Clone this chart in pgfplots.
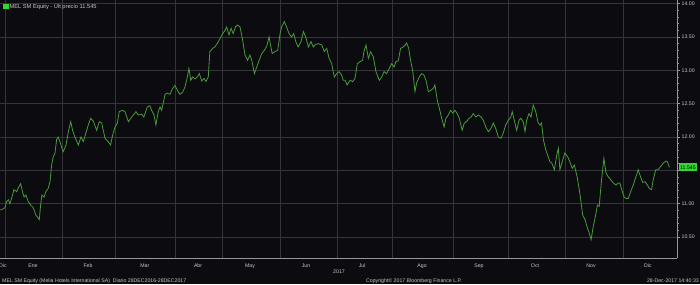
\documentclass[border=0pt]{standalone}
\usepackage{fontspec}
\setmainfont{Liberation Sans}
\usepackage{pgfplots}
\pgfplotsset{compat=1.18}
\definecolor{bg}{RGB}{12,11,16}
\definecolor{gridc}{RGB}{52,52,58}
\definecolor{axc}{RGB}{150,150,155}
\definecolor{txt}{RGB}{200,200,200}
\definecolor{ln}{RGB}{72,155,58}
\definecolor{lastc}{RGB}{50,215,50}
\newcommand\sm{\fontsize{5.2}{6}\selectfont}
\newcommand\legf{\fontsize{5.7}{6.5}\selectfont}
\begin{document}
\begin{tikzpicture}[x=1pt,y=1pt]
\fill[bg] (0,0) rectangle (700,284);
\useasboundingbox (0,0) rectangle (700,284);
\begin{axis}[
  at={(0pt,26pt)}, anchor=south west,
  scale only axis, width=677pt, height=258pt,
  xmin=0.6, xmax=259, ymin=10.186, ymax=14.054,
  axis x line*=bottom, axis y line*=right,
  axis line style={axc, line width=0.6pt},
  /pgf/number format/assume math mode=true,
  tick align=outside,
  xtick={2.5,24.5,44.5,67.5,85.5,107.5,129.5,150.5,173.5,194.5,216.5,238.5},
  xticklabels={},
  xtick style={draw=none},
  extra x ticks={1.7,13.2,34.2,55.9,76.2,96,117.4,138.8,161.7,183.4,204.8,226.2,247.9},
  extra x tick labels={Dic,Ene,Feb,Mar,Abr,May,Jun,Jul,Ago,Sep,Oct,Nov,Dic},
  extra x tick style={grid=none, major tick length=0pt,
     xticklabel style={anchor=north, inner sep=0pt, yshift=-6pt}},
  ytick={10.5,11,11.5,12,12.5,13,13.5,14},
  yticklabels={10.50,11.00,{},12.00,12.50,13.00,13.50,14.00},
  minor y tick num=4,
  ytick style={axc, line width=0.5pt},
  major tick length=3pt, minor tick length=1.5pt,
  yticklabel style={anchor=west, inner sep=0pt, xshift=1.5pt},
  extra y ticks={11.545},
  extra y tick labels={11.545},
  extra y tick style={grid=none, major tick length=0pt,
     yticklabel style={fill=lastc, text=black, inner sep=1pt, xshift=0.5pt, minimum height=8pt}},
  ticklabel style={font=\sm, text=txt},
  grid=major,
  major grid style={gridc, line width=0.7pt},
  legend style={at={(0,1)}, anchor=north west, xshift=3pt, yshift=-2pt,
     draw=none, fill=none, inner sep=0pt, font=\legf, text=txt,
     nodes={inner sep=1pt}},
  legend cell align=left,
]
\addplot[ln, line width=0.8pt,
  legend image code/.code={\fill[lastc] (0pt,-2.3pt) rectangle (4.6pt,2.3pt);}]
coordinates {
(0.6,10.91)(1.2,10.91)(2.5,10.94)(3.1,11.03)(3.8,11.06)(4.4,11.00)(5.4,11.13)(5.9,11.21)(7.0,11.18)(7.6,11.24)(8.5,11.30)(9.3,11.16)(9.8,11.10)(10.5,11.13)(11.4,11.03)(12.3,10.98)(13.3,10.94)(14.3,10.83)(15.6,10.76)(16.1,10.98)(16.6,11.13)(17.4,11.10)(18.1,11.18)(19.0,11.23)(19.7,11.33)(20.3,11.58)(20.9,11.70)(21.6,11.76)(22.2,11.96)(22.8,12.00)(23.5,11.93)(24.1,11.85)(24.7,11.78)(25.8,11.88)(26.7,12.08)(27.6,12.23)(28.3,12.10)(29.2,12.00)(30.5,11.88)(31.5,12.00)(32.4,11.93)(33.4,12.06)(34.3,12.18)(35.2,12.28)(36.2,12.24)(37.5,12.10)(38.5,12.23)(39.4,12.21)(40.7,11.98)(41.9,11.93)(42.8,11.88)(43.6,12.03)(44.5,12.15)(45.4,12.21)(46.1,12.38)(46.7,12.39)(47.4,12.40)(48.3,12.38)(49.6,12.23)(50.9,12.30)(52.5,12.38)(53.4,12.33)(54.7,12.34)(55.5,12.30)(56.8,12.45)(57.8,12.47)(58.5,12.40)(59.4,12.33)(60.1,12.18)(61.0,12.38)(61.7,12.45)(62.3,12.40)(62.9,12.51)(63.6,12.64)(64.4,12.66)(65.5,12.64)(66.5,12.73)(67.4,12.77)(68.3,12.70)(69.3,12.64)(70.3,12.67)(71.2,12.75)(72.1,12.90)(72.7,13.03)(73.4,12.85)(74.1,12.90)(75.0,12.87)(75.9,12.90)(76.7,12.95)(77.6,12.84)(78.5,12.88)(79.2,12.83)(80.1,12.90)(80.7,13.28)(81.8,13.33)(82.6,13.35)(83.5,13.40)(84.6,13.48)(85.6,13.55)(86.5,13.60)(87.1,13.65)(88.0,13.53)(88.8,13.63)(89.6,13.55)(90.5,13.65)(91.3,13.68)(92.2,13.65)(93.1,13.48)(94.1,13.23)(95.1,13.15)(96.0,13.23)(96.7,13.15)(97.7,12.95)(98.6,13.05)(99.5,13.15)(100.5,13.25)(101.5,13.30)(102.4,13.36)(103.3,13.50)(104.0,13.35)(104.5,13.25)(105.5,13.28)(106.6,13.30)(107.5,13.55)(108.1,13.65)(109.1,13.73)(110.0,13.65)(110.9,13.55)(111.9,13.50)(112.7,13.55)(113.5,13.43)(114.4,13.35)(115.5,13.43)(116.4,13.58)(117.3,13.50)(118.3,13.35)(119.3,13.43)(120.2,13.35)(121.1,13.39)(122.1,13.40)(123.4,13.38)(124.4,13.28)(125.3,13.33)(126.2,13.18)(127.2,13.10)(128.2,12.90)(129.1,12.95)(130.0,12.98)(131.0,12.93)(131.6,12.85)(132.3,12.85)(133.1,12.78)(134.2,12.85)(135.2,12.83)(136.1,12.88)(137.0,13.10)(138.0,13.13)(139.0,13.15)(139.5,13.28)(140.3,13.38)(141.2,13.18)(142.1,13.28)(143.1,13.20)(144.1,12.98)(145.4,12.85)(146.3,12.90)(147.2,12.98)(148.2,12.95)(149.2,13.03)(150.1,13.10)(151.0,13.05)(151.7,13.13)(152.6,13.14)(153.5,13.33)(154.5,13.35)(155.3,13.38)(155.8,13.41)(156.6,13.33)(157.3,13.15)(158.1,13.00)(159.0,12.68)(159.6,12.81)(160.6,12.90)(161.5,12.95)(162.4,12.93)(163.2,12.85)(164.1,12.68)(165.0,12.70)(166.0,12.73)(166.6,12.78)(167.5,12.55)(168.3,12.43)(169.2,12.28)(170.1,12.15)(170.8,12.28)(171.7,12.33)(172.6,12.40)(173.4,12.36)(174.3,12.40)(175.1,12.35)(175.9,12.28)(176.2,12.23)(177.0,12.10)(177.8,12.21)(178.7,12.23)(179.6,12.28)(180.4,12.30)(181.2,12.35)(182.2,12.30)(183.2,12.33)(184.2,12.30)(185.1,12.25)(186.0,12.15)(187.0,12.08)(188.0,12.13)(188.9,12.21)(189.8,12.13)(190.8,12.00)(191.8,11.98)(192.7,12.06)(193.6,12.18)(194.6,12.25)(195.6,12.30)(196.1,12.38)(196.9,12.25)(197.8,12.10)(198.7,12.25)(199.4,12.28)(200.3,12.23)(201.0,12.08)(201.6,12.25)(202.5,12.35)(203.3,12.30)(204.1,12.48)(205.1,12.38)(206.0,12.21)(206.7,12.18)(207.3,12.21)(208.0,11.96)(208.9,11.81)(209.6,11.73)(210.5,11.63)(211.2,11.61)(212.2,11.51)(213.1,11.73)(213.7,11.83)(214.3,11.51)(215.2,11.63)(216.2,11.76)(217.3,11.70)(218.1,11.63)(219.0,11.53)(219.8,11.58)(220.9,11.40)(221.9,11.16)(223.0,10.83)(223.9,10.76)(224.7,10.65)(225.5,10.56)(226.2,10.46)(227.0,10.65)(228.1,10.86)(228.6,10.98)(229.3,10.96)(230.2,11.36)(231.1,11.68)(231.9,11.46)(232.8,11.40)(233.7,11.36)(234.7,11.31)(235.7,11.28)(236.6,11.31)(237.2,11.31)(237.9,11.21)(238.8,11.10)(239.5,11.08)(240.4,11.08)(241.3,11.18)(242.3,11.28)(243.3,11.40)(244.2,11.51)(245.1,11.40)(245.9,11.32)(246.8,11.33)(247.7,11.28)(248.4,11.23)(249.3,11.21)(249.9,11.36)(250.9,11.51)(251.8,11.51)(252.8,11.56)(253.8,11.61)(254.8,11.64)(255.3,11.63)(256.1,11.545)
};
\addlegendentry{MEL SM Equity - Últ precio 11.545}
\draw[axc, line width=0.5pt] (axis cs:2.5,10.186) -- ++(0pt,-12pt);
\draw[axc, line width=0.5pt] (axis cs:257.2,10.186) ++(0pt,-10pt) -- ++(0pt,-10pt);
\end{axis}
\node[anchor=center, font=\sm, text=txt] at (339,12) {2017};
\node[anchor=west, font=\sm, text=txt, inner sep=0pt] at (2,3) {MEL SM Equity (Melia Hotels International SA)\ \ Diario 28DEC2016-28DEC2017};
\node[anchor=west, font=\sm, text=txt, inner sep=0pt] at (366,3) {Copyright© 2017 Bloomberg Finance L.P.};
\node[anchor=east, font=\sm, text=txt, inner sep=0pt] at (699,3) {28-Dec-2017 14:40:33};
\end{tikzpicture}
\end{document}
